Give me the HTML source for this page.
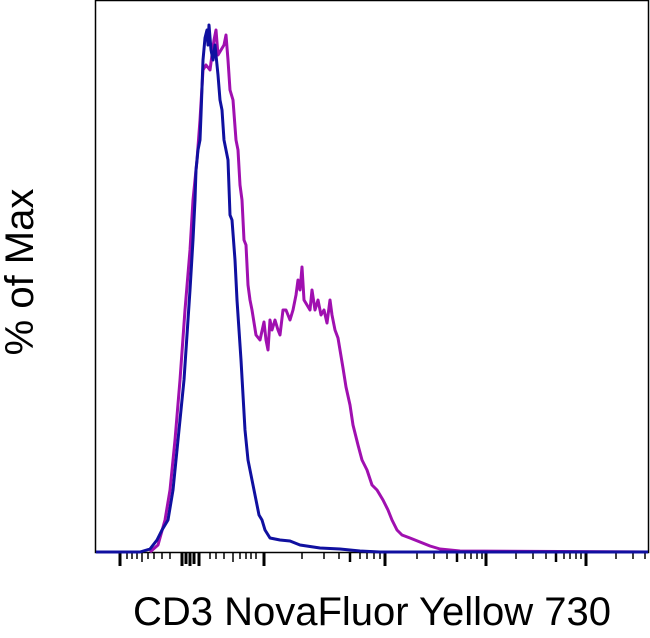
<!DOCTYPE html>
<html><head><style>
body{margin:0;background:#fff;width:650px;height:633px;overflow:hidden;font-family:"Liberation Sans",sans-serif}
</style></head><body>
<svg width="650" height="633" viewBox="0 0 650 633" xmlns="http://www.w3.org/2000/svg">
<rect x="95.5" y="0.5" width="553" height="552" fill="none" stroke="#000" stroke-width="1.5"/>
<g stroke="#000" stroke-width="1.5">
<line x1="120" y1="552" x2="120" y2="566" stroke-width="3"/>
<line x1="127" y1="552" x2="127" y2="559"/><line x1="132" y1="552" x2="132" y2="559"/><line x1="137" y1="552" x2="137" y2="559"/><line x1="142" y1="552" x2="142" y2="562"/><line x1="148" y1="552" x2="148" y2="559"/><line x1="154" y1="552" x2="154" y2="559"/><line x1="162" y1="552" x2="162" y2="559"/><line x1="170" y1="552" x2="170" y2="559"/>
<line x1="182" y1="552" x2="182" y2="566" stroke-width="3"/><line x1="186" y1="552" x2="186" y2="564" stroke-width="3"/><line x1="190" y1="552" x2="190" y2="566" stroke-width="3"/><line x1="194" y1="552" x2="194" y2="564" stroke-width="3"/><line x1="199" y1="552" x2="199" y2="566" stroke-width="3"/>
<line x1="210" y1="552" x2="210" y2="559"/><line x1="216" y1="552" x2="216" y2="559"/><line x1="224" y1="552" x2="224" y2="559"/><line x1="233" y1="552" x2="233" y2="562"/><line x1="240" y1="552" x2="240" y2="559"/><line x1="246" y1="552" x2="246" y2="559"/><line x1="251" y1="552" x2="251" y2="559"/><line x1="256" y1="552" x2="256" y2="559"/>
<line x1="264" y1="552" x2="264" y2="566" stroke-width="3"/>
<line x1="302" y1="552" x2="302" y2="559"/><line x1="324" y1="552" x2="324" y2="559"/><line x1="339" y1="552" x2="339" y2="559"/><line x1="350" y1="552" x2="350" y2="562" stroke-width="2.5"/><line x1="360" y1="552" x2="360" y2="559"/><line x1="367" y1="552" x2="367" y2="559"/><line x1="374" y1="552" x2="374" y2="559"/><line x1="380" y1="552" x2="380" y2="559"/>
<line x1="385" y1="552" x2="385" y2="566" stroke-width="3"/>
<line x1="417" y1="552" x2="417" y2="559"/><line x1="434" y1="552" x2="434" y2="559"/><line x1="447" y1="552" x2="447" y2="559"/><line x1="457" y1="552" x2="457" y2="562" stroke-width="2.5"/><line x1="465" y1="552" x2="465" y2="559"/><line x1="471" y1="552" x2="471" y2="559"/><line x1="477" y1="552" x2="477" y2="559"/><line x1="482" y1="552" x2="482" y2="559"/>
<line x1="486" y1="552" x2="486" y2="566" stroke-width="3"/>
<line x1="516" y1="552" x2="516" y2="559"/><line x1="533" y1="552" x2="533" y2="559"/><line x1="546" y1="552" x2="546" y2="559"/><line x1="556" y1="552" x2="556" y2="562" stroke-width="2.5"/><line x1="564" y1="552" x2="564" y2="559"/><line x1="570" y1="552" x2="570" y2="559"/><line x1="576" y1="552" x2="576" y2="559"/><line x1="581" y1="552" x2="581" y2="559"/>
<line x1="586" y1="552" x2="586" y2="566" stroke-width="3"/>
<line x1="616" y1="552" x2="616" y2="559"/><line x1="633" y1="552" x2="633" y2="559"/><line x1="645" y1="552" x2="645" y2="559"/>
</g>
<polyline fill="none" stroke="#a010b0" stroke-width="3" stroke-linejoin="round" points="150,552 158,545 165,520 170,490 175,440 180,380 185,310 190,250 193,200 197,160 200,120 203,70 206,65 210,70 214,40 216,30 218,55 221,50 224,45 226,35 228,60 230,90 233,100 236,140 238,150 240,185 242,200 244,240 246,245 248,285 250,300 252,310 256,335 260,340 264,322 266,340 268,350 270,320 272,330 275,320 278,330 280,335 283,310 286,310 290,320 293,310 296,295 298,280 300,290 302,267 304,300 307,305 310,310 312,290 315,310 318,300 321,315 324,310 327,323 330,300 332,315 335,330 338,338 340,350 343,368 346,387 350,405 353,425 358,445 362,460 367,470 372,485 377,490 383,500 388,510 392,520 397,530 402,535 410,538 420,542 430,546 440,549 460,551 648,552"/>
<polyline fill="none" stroke="#1010a0" stroke-width="3" stroke-linejoin="round" points="96,552 140,552 150,549 157,540 162,530 168,520 173,490 175,470 178,440 181,410 184,380 186,350 190,290 193,240 195,200 196,170 198,150 200,140 201,115 203,60 205,38 207,30 208,45 209,25 211,50 213,60 215,45 218,75 220,100 222,110 224,140 228,160 230,215 232,220 235,260 237,300 239,330 241,360 245,430 248,460 252,480 256,500 259,515 262,520 265,530 270,538 280,540 290,541 300,545 320,548 340,549 360,551 380,552 648,552"/>
<text x="372" y="625" font-size="40" text-anchor="middle" fill="#000">CD3 NovaFluor Yellow 730</text>
<text transform="translate(33,272) rotate(-90)" font-size="40" text-anchor="middle" fill="#000">% of Max</text>
</svg>
</body></html>
